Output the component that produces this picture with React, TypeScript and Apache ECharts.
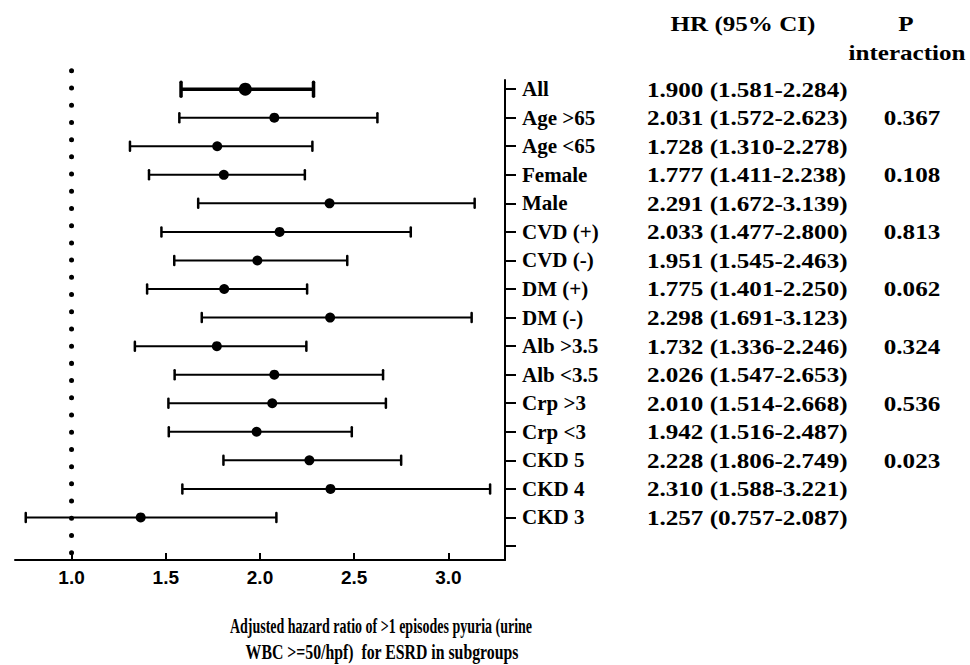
import React, { useEffect, useRef } from 'react';
import * as echarts from 'echarts';

const labels = ['All', 'Age >65', 'Age <65', 'Female', 'Male', 'CVD (+)', 'CVD (-)', 'DM (+)', 'DM (-)', 'Alb >3.5', 'Alb <3.5', 'Crp >3', 'Crp <3', 'CKD 5', 'CKD 4', 'CKD 3'];
const hrPoint = [1.922, 2.076, 1.773, 1.808, 2.369, 2.104, 1.986, 1.81, 2.372, 1.771, 2.076, 2.065, 1.982, 2.262, 2.374, 1.367];
const ciLower = [1.581, 1.572, 1.31, 1.411, 1.672, 1.477, 1.545, 1.401, 1.691, 1.336, 1.547, 1.514, 1.516, 1.806, 1.588, 0.757];
const ciUpper = [2.284, 2.623, 2.278, 2.238, 3.139, 2.8, 2.463, 2.25, 3.123, 2.246, 2.653, 2.668, 2.487, 2.749, 3.221, 2.087];
const hrText = ['1.900 (1.581-2.284)', '2.031 (1.572-2.623)', '1.728 (1.310-2.278)', '1.777 (1.411-2.238)', '2.291 (1.672-3.139)', '2.033 (1.477-2.800)', '1.951 (1.545-2.463)', '1.775 (1.401-2.250)', '2.298 (1.691-3.123)', '1.732 (1.336-2.246)', '2.026 (1.547-2.653)', '2.010 (1.514-2.668)', '1.942 (1.516-2.487)', '2.228 (1.806-2.749)', '2.310 (1.588-3.221)', '1.257 (0.757-2.087)'];
const pText = ['', '0.367', '', '0.108', '', '0.813', '', '0.062', '', '0.324', '', '0.536', '', '0.023', '', ''];
const xTicks = [1.0, 1.5, 2.0, 2.5, 3.0];
const refValue = 1.0;
const titleLines = ['Adjusted hazard ratio of >1 episodes pyuria (urine', 'WBC >=50/hpf)  for ESRD in subgroups'];
const headerHR = 'HR (95% CI)';
const headerP = ['P', 'interaction'];

export default function App() {
  const ref = useRef<HTMLDivElement>(null);
  useEffect(() => {
    const chart = echarts.init(ref.current as HTMLDivElement, null, { renderer: 'svg' });
    const n = labels.length;
    const rows = labels.map((_, i) => [n - i, ciLower[i], hrPoint[i], ciUpper[i], i]);
    const yTicks = Array.from({ length: n + 1 }, (_, k) => k);
    const serif = '"Liberation Serif", "Times New Roman", serif';
    const sans = '"Liberation Sans", Arial, sans-serif';
    const txtScale = 1.14;
    const textStyle = (text: string, align: string, size = 22) => ({
      text,
      fill: '#000',
      fontSize: size,
      fontWeight: 'bold',
      fontFamily: serif,
      textAlign: align,
      textVerticalAlign: 'middle',
      verticalAlign: 'middle',
    });

    chart.setOption({
      animation: false,
      backgroundColor: '#fff',
      grid: { left: 15, right: 465, top: 80, bottom: 105, outerBoundsMode: 'none' },
      xAxis: {
        type: 'value',
        min: 0.7,
        max: 3.3,
        axisLine: { show: true, onZero: false, lineStyle: { color: '#000', width: 2 } },
        axisTick: { show: true, inside: true, length: 7, customValues: xTicks, lineStyle: { color: '#000', width: 2 } },
        axisLabel: {
          customValues: xTicks,
          formatter: (v: number) => v.toFixed(1),
          color: '#000',
          fontFamily: sans,
          fontWeight: 'bold',
          fontSize: 19,
          margin: 8,
        },
        splitLine: { show: false },
      },
      yAxis: {
        type: 'value',
        position: 'right',
        min: -0.49,
        max: 16.32,
        axisLine: { show: true, onZero: false, lineStyle: { color: '#000', width: 2 } },
        axisTick: { show: true, inside: false, length: 11, customValues: yTicks, lineStyle: { color: '#000', width: 2 } },
        axisLabel: {
          customValues: yTicks,
          formatter: (v: number) => labels[n - v] ?? '',
          color: '#000',
          fontFamily: serif,
          fontWeight: 'bold',
          fontSize: 21,
          margin: 17,
          align: 'left',
        },
        splitLine: { show: false },
      },
      series: [
        {
          type: 'line',
          data: [[refValue, -0.234], [refValue, 16.7]],
          symbol: 'none',
          clip: false,
          silent: true,
          lineStyle: { color: '#000', width: 5, type: [0.01, 17.2], cap: 'round' },
          z: 1,
        },
        {
          type: 'custom',
          data: rows,
          encode: { x: [1, 2, 3], y: 0 },
          clip: false,
          z: 3,
          renderItem: (_params: any, api: any) => {
            const y = api.value(0);
            const idx = api.value(4);
            const pLo = api.coord([api.value(1), y]);
            const pPt = api.coord([api.value(2), y]);
            const pHi = api.coord([api.value(3), y]);
            const bold = idx === 0;
            const lw = bold ? 3.5 : 2;
            const capH = bold ? 7 : 4.5;
            const capW = bold ? 3.5 : 2.5;
            const r = bold ? 6.5 : 5;
            return {
              type: 'group',
              children: [
                { type: 'line', shape: { x1: pLo[0], y1: pLo[1], x2: pHi[0], y2: pHi[1] }, style: { stroke: '#000', lineWidth: lw } },
                { type: 'line', shape: { x1: pLo[0], y1: pLo[1] - capH, x2: pLo[0], y2: pLo[1] + capH }, style: { stroke: '#000', lineWidth: capW, lineCap: 'round' } },
                { type: 'line', shape: { x1: pHi[0], y1: pHi[1] - capH, x2: pHi[0], y2: pHi[1] + capH }, style: { stroke: '#000', lineWidth: capW, lineCap: 'round' } },
                { type: 'circle', shape: { cx: pPt[0], cy: pPt[1], r }, style: { fill: '#000' } },
                { type: 'text', x: 647, y: pPt[1], scaleX: txtScale, style: textStyle(hrText[idx], 'left') },
                { type: 'text', x: 912, y: pPt[1], scaleX: txtScale, style: textStyle(pText[idx], 'center') },
              ],
            };
          },
        },
      ],
      graphic: [
        { type: 'text', x: 743, y: 24, scaleX: txtScale, style: textStyle(headerHR, 'center') },
        { type: 'text', x: 906, y: 24, scaleX: txtScale, style: textStyle(headerP[0], 'center') },
        { type: 'text', x: 907, y: 53, scaleX: txtScale, style: textStyle(headerP[1], 'center') },
        { type: 'text', x: 381, y: 627, scaleX: 0.7, style: textStyle(titleLines[0], 'center', 20) },
        { type: 'text', x: 382, y: 652, scaleX: 0.79, style: textStyle(titleLines[1], 'center', 20) },
      ],
    });
    return () => chart.dispose();
  }, []);
  return <div ref={ref} style={{ position: 'fixed', left: 0, top: 0, width: 970, height: 665 }} />;
}
